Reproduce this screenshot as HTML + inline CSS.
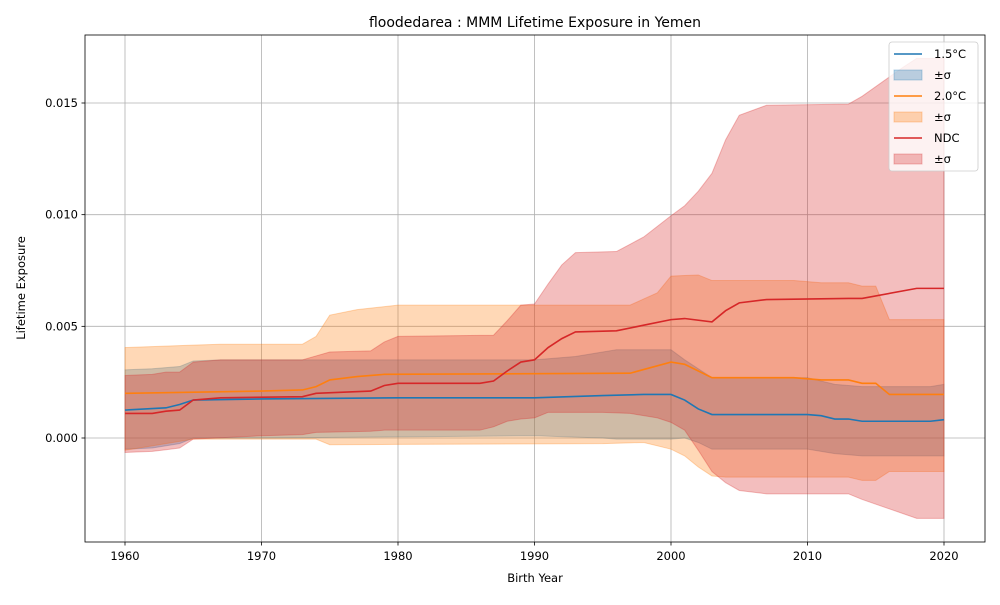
<!DOCTYPE html>
<html><head><meta charset="utf-8"><style>
body{margin:0;background:#fff;font-family:"Liberation Sans","DejaVu Sans",sans-serif;}
svg text{font-family:"DejaVu Sans","Liberation Sans",sans-serif;}
</style></head><body>
<svg id="chart" width="1000" height="600" xmlns="http://www.w3.org/2000/svg"></svg>
<script>
const yrsB=[1960,1963,1964,1965,1970,1980,1990,1995,1998,2000,2001,2002,2003,2010,2011,2012,2013,2014,2019,2020];
const meanB=[1.25,1.35,1.5,1.7,1.75,1.8,1.8,1.9,1.95,1.95,1.7,1.3,1.05,1.05,1.0,0.85,0.85,0.75,0.75,0.82];
const yrsBu=[1960,1962,1964,1965,1967,1990,1993,1996,2000,2001,2003,2010,2012,2014,2019,2020];
const upB=[3.05,3.1,3.2,3.45,3.5,3.5,3.65,3.95,3.95,3.5,2.7,2.7,2.4,2.3,2.3,2.4];
const yrsBl=[1960,1962,1964,1965,1970,1980,1990,1995,1996,2000,2001,2002,2003,2010,2012,2014,2020];
const loB=[-0.5,-0.45,-0.25,0,0,0.05,0.1,0,-0.05,-0.05,0,-0.2,-0.5,-0.5,-0.7,-0.8,-0.8];

const yrsO=[1960,1970,1973,1974,1975,1977,1979,1997,2000,2001,2003,2009,2011,2013,2014,2015,2016,2020];
const meanO=[2.0,2.1,2.15,2.3,2.6,2.75,2.85,2.9,3.4,3.3,2.7,2.7,2.6,2.6,2.45,2.45,1.95,1.95];
const yrsOu=[1960,1967,1973,1974,1975,1977,1980,1997,1999,2000,2002,2003,2009,2011,2013,2014,2015,2016,2020];
const upO=[4.05,4.2,4.2,4.55,5.5,5.75,5.95,5.95,6.5,7.25,7.3,7.05,7.05,6.95,6.95,6.8,6.8,5.3,5.3];
const yrsOl=[1960,1965,1974,1975,1995,1998,2000,2001,2002,2003,2004,2013,2014,2015,2016,2020];
const loO=[-0.55,-0.05,-0.05,-0.3,-0.25,-0.2,-0.5,-0.8,-1.3,-1.7,-1.75,-1.75,-1.9,-1.9,-1.5,-1.5];

const yrsR=[1960,1962,1963,1964,1965,1967,1973,1974,1978,1979,1980,1986,1987,1988,1989,1990,1991,1992,1993,1996,1998,2000,2001,2003,2004,2005,2007,2013,2014,2018,2020];
const meanR=[1.1,1.1,1.2,1.25,1.7,1.8,1.85,2.0,2.1,2.35,2.45,2.45,2.55,3.0,3.4,3.5,4.05,4.45,4.75,4.8,5.05,5.3,5.35,5.2,5.7,6.05,6.2,6.25,6.25,6.7,6.7];
const yrsRu=[1960,1962,1963,1964,1965,1967,1973,1975,1978,1979,1980,1987,1988,1989,1990,1991,1992,1993,1996,1998,2000,2001,2002,2003,2004,2005,2007,2013,2014,2017,2018,2020];
const upR=[2.8,2.85,2.95,2.95,3.4,3.5,3.5,3.85,3.9,4.3,4.55,4.6,5.25,5.95,6.0,6.9,7.75,8.3,8.35,9.0,9.95,10.4,11.05,11.85,13.35,14.45,14.9,14.95,15.3,16.6,17.0,17.0];
const yrsRl=[1960,1962,1964,1965,1970,1973,1974,1978,1979,1986,1987,1988,1989,1990,1991,1995,1997,1999,2000,2001,2002,2003,2004,2005,2007,2013,2014,2018,2020];
const loR=[-0.65,-0.6,-0.45,-0.05,0.1,0.15,0.25,0.3,0.35,0.35,0.5,0.75,0.85,0.9,1.15,1.15,1.1,0.9,0.7,0.35,-0.55,-1.5,-2.0,-2.35,-2.5,-2.5,-2.75,-3.6,-3.6];

const xTicks=[1960,1970,1980,1990,2000,2010,2020];
const yTicks=[0,0.005,0.010,0.015];
const yTickLabels=["0.000","0.005","0.010","0.015"];

const L=85,R=985,T=35,B=542;
const x=v=>125+(v-1960)*(944-125)/60;
const y=v=>438-v*(438-103)/0.015;
const s=document.getElementById('chart');
const NS="http://www.w3.org/2000/svg";
function mk(tag,attrs,parent){const e=document.createElementNS(NS,tag);for(const k in attrs)e.setAttribute(k,attrs[k]);(parent||s).appendChild(e);return e;}
function interp(xs,vs,yr){for(let i=0;i<xs.length-1;i++){if(yr>=xs[i]&&yr<=xs[i+1]){return vs[i]+(vs[i+1]-vs[i])*(yr-xs[i])/(xs[i+1]-xs[i]);}}return vs[vs.length-1];}

mk('rect',{x:0,y:0,width:1000,height:600,fill:'#fff'});
xTicks.forEach(t=>{const g=mk('line',{x1:x(t),x2:x(t),y1:T,y2:B,stroke:'#b0b0b0','stroke-width':0.8});
});
yTicks.forEach(t=>{const g=mk('line',{x1:L,x2:R,y1:y(t),y2:y(t),stroke:'#b0b0b0','stroke-width':0.8});
});

function band(xu,u,xl,l,color,name){
  const all=[...new Set([...xu,...xl])].sort((a,b)=>a-b);
  let d='M'+all.map(yr=>x(yr)+','+y(interp(xu,u,yr)/1000)).join(' L');
  d+=' L'+all.slice().reverse().map(yr=>x(yr)+','+y(interp(xl,l,yr)/1000)).join(' L')+' Z';
  const p=mk('path',{d:d,fill:color,'fill-opacity':0.3,stroke:color,'stroke-opacity':0.3,'stroke-width':1});
  
  
}
function line(xs,vs,color,name){
  const d='M'+xs.map((yr,i)=>x(yr)+','+y(vs[i]/1000)).join(' L');
  const p=mk('path',{d:d,fill:'none',stroke:color,'stroke-width':1.6});
  
  
}
band(yrsBu,upB,yrsBl,loB,'#1f77b4','band-1-5c');
band(yrsOu,upO,yrsOl,loO,'#ff7f0e','band-2-0c');
band(yrsRu,upR,yrsRl,loR,'#d62728','band-ndc');
line(yrsB,meanB,'#1f77b4','line-1-5c');
line(yrsO,meanO,'#ff7f0e','line-2-0c');
line(yrsR,meanR,'#d62728','line-ndc');

const fr=mk('rect',{x:L,y:T,width:R-L,height:B-T,fill:'none',stroke:'#000','stroke-width':0.8});

xTicks.forEach(t=>{mk('line',{x1:x(t),x2:x(t),y1:B,y2:B+3.5,stroke:'#000','stroke-width':0.8});
const tx=mk('text',{x:x(t),y:B+18,'font-size':11.5,'text-anchor':'middle'});tx.textContent=t;
});
yTicks.forEach((t,i)=>{mk('line',{x1:L-3.5,x2:L,y1:y(t),y2:y(t),stroke:'#000','stroke-width':0.8});
const tx=mk('text',{x:L-7,y:y(t)+4,'font-size':11.5,'text-anchor':'end'});tx.textContent=yTickLabels[i];
});

let t1=mk('text',{x:535,y:27,'font-size':14,'text-anchor':'middle'});t1.textContent='floodedarea : MMM Lifetime Exposure in Yemen';

let t2=mk('text',{x:535,y:582,'font-size':11.5,'text-anchor':'middle'});t2.textContent='Birth Year';

let t3=mk('text',{x:25,y:288,'font-size':11.5,'text-anchor':'middle',transform:'rotate(-90 25 288)'});t3.textContent='Lifetime Exposure';


const lg=mk('g',{});

mk('rect',{x:889,y:42,width:89,height:129,rx:3,fill:'#fff','fill-opacity':0.8,stroke:'#ccc','stroke-width':0.8},lg);
const entries=[['1.5°C','#1f77b4','line'],['±σ','#1f77b4','patch'],['2.0°C','#ff7f0e','line'],['±σ','#ff7f0e','patch'],['NDC','#d62728','line'],['±σ','#d62728','patch']];
entries.forEach((e,i)=>{const cy=54+i*21;
 const g=mk('g',{},lg);
 
 if(e[2]==='line')mk('line',{x1:894,x2:922,y1:cy,y2:cy,stroke:e[1],'stroke-width':1.6},g);
 else mk('rect',{x:894,y:cy-5,width:28,height:10,fill:e[1],'fill-opacity':0.3,stroke:e[1],'stroke-opacity':0.3},g);
 const tx=mk('text',{x:934,y:cy+4,'font-size':11.5},g);tx.textContent=e[0];});
</script>
</body></html>
